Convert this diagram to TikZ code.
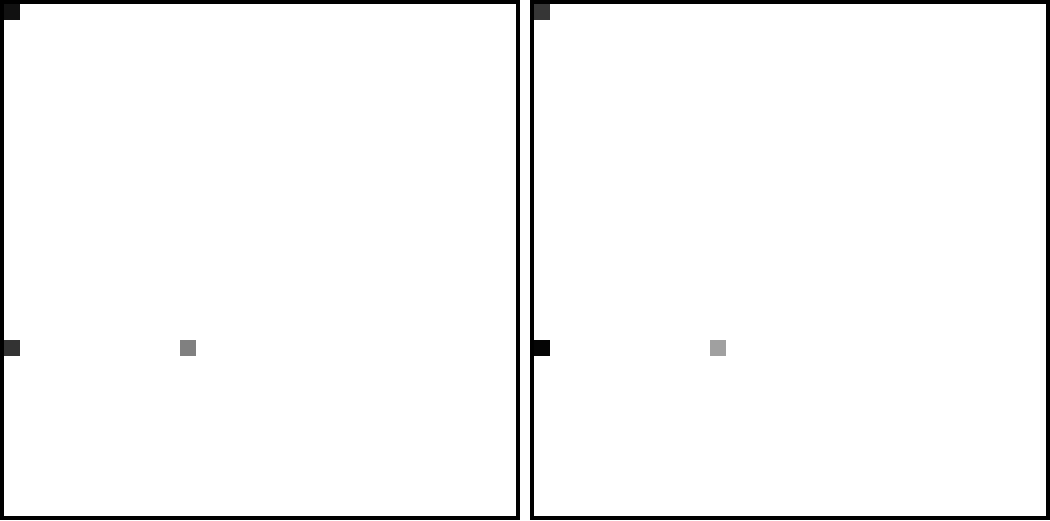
\documentclass[tikz,border=0pt]{standalone}
\definecolor{cA}{HTML}{111111}
\definecolor{cB}{HTML}{333333}
\definecolor{cC}{HTML}{808080}
\definecolor{cD}{HTML}{363636}
\definecolor{cE}{HTML}{050505}
\definecolor{cF}{HTML}{A0A0A0}
\begin{document}
\begin{tikzpicture}[x=1pt,y=-1pt,
  cell/.style={draw=none,inner sep=0pt,minimum size=16pt,anchor=north west}]
\useasboundingbox (0,0) rectangle (1050,520);
\fill[white] (0,0) rectangle (1050,520);
% panels
\fill[black] (0,0) rectangle (520,520);
\fill[white] (4,4) rectangle (516,516);
\fill[black] (530,0) rectangle (1050,520);
\fill[white] (534,4) rectangle (1046,516);
% left panel cells
\node[cell,fill=cA] (l00) at (4,4) {};
\node[cell,fill=cB] (l021) at (4,340) {};
\node[cell,fill=cC] (l1121) at (180,340) {};
% right panel cells
\node[cell,fill=cD] (r00) at (534,4) {};
\node[cell,fill=cE] (r021) at (534,340) {};
\node[cell,fill=cF] (r1121) at (710,340) {};
\end{tikzpicture}
\end{document}
